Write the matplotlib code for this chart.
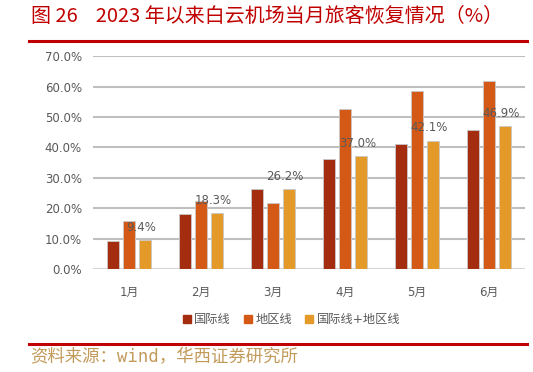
import numpy as np
from matplotlib import pyplot as plt
from matplotlib.lines import Line2D

months = ['1月', '2月', '3月', '4月', '5月', '6月']
intl = [9.2, 18.1, 26.3, 36.1, 41.1, 45.8]
region = [15.8, 22.3, 21.6, 52.6, 58.7, 61.9]
combined = [9.4, 18.3, 26.2, 37.0, 42.1, 46.9]
series_names = ['国际线', '地区线', '国际线+地区线']
colors = ['#A52D0F', '#D55916', '#E39A28']

plt.rcParams['font.family'] = ['DejaVu Sans', 'Noto Sans CJK SC']
fig = plt.figure(figsize=(5.33, 3.72), dpi=100)
ax = fig.add_axes([0.1745, 0.277, 0.8105, 0.572])

X = np.arange(len(months))
w = 0.172
off = 0.22
for k, vals in enumerate([intl, region, combined]):
    ax.bar(X + (k - 1) * off, vals, width=w, color=colors[k],
           edgecolor='#C8C8C8', linewidth=0.6, zorder=3, label=series_names[k])

# 数据标签（只标合计）
for a, b in zip(X + off - 0.05, combined):
    ax.text(a, b + 2.2, '%.1f%%' % b, ha='center', va='bottom',
            fontsize=8.5, color='#595959', zorder=4)

ax.set_xlim(-0.5, 5.5)
ax.set_ylim(0, 70)
ax.set_yticks(np.arange(0, 71, 10))
ax.set_yticklabels(['%.1f%%' % v for v in np.arange(0, 71, 10)])
ax.set_xticks(X)
ax.set_xticklabels(months)
ax.yaxis.grid(True, color='#BFBFBF', linewidth=1.5, zorder=0)
ax.tick_params(axis='both', length=0, labelsize=8.5, labelcolor='#595959')
ax.tick_params(axis='x', pad=12)
ax.tick_params(axis='y', pad=8)
for s in ax.spines.values():
    s.set_visible(False)
ax.axhline(0, color='#D9D9D9', linewidth=2, zorder=2)

handles = [Line2D([], [], marker='s', linestyle='none', markersize=6,
                  markerfacecolor=c, markeredgecolor=c) for c in colors]
fig.legend(handles, series_names, loc='center', bbox_to_anchor=(0.545, 0.14),
           ncol=3, frameon=False, fontsize=8.8, labelcolor='#595959',
           handletextpad=0.1, columnspacing=0.9, handlelength=1.0)

fig.text(0.058, 0.957, '图 26    2023 年以来白云机场当月旅客恢复情况（%）',
         fontsize=14.4, color='#C00000', va='center', ha='left',
         family=['Noto Sans CJK SC', 'DejaVu Sans'])
fig.add_artist(Line2D([0.054, 0.989], [0.891, 0.891], color='#C00000', linewidth=2.2))
fig.add_artist(Line2D([0.054, 0.989], [0.075, 0.075], color='#C00000', linewidth=2.2))
fig.text(0.057, 0.039, '资料来源：wind，华西证券研究所', fontsize=12.5,
         color='#C29A5A', va='center', ha='left',
         family=['DejaVu Sans Mono', 'Noto Sans CJK SC'])

plt.savefig('out.png', dpi=100)
